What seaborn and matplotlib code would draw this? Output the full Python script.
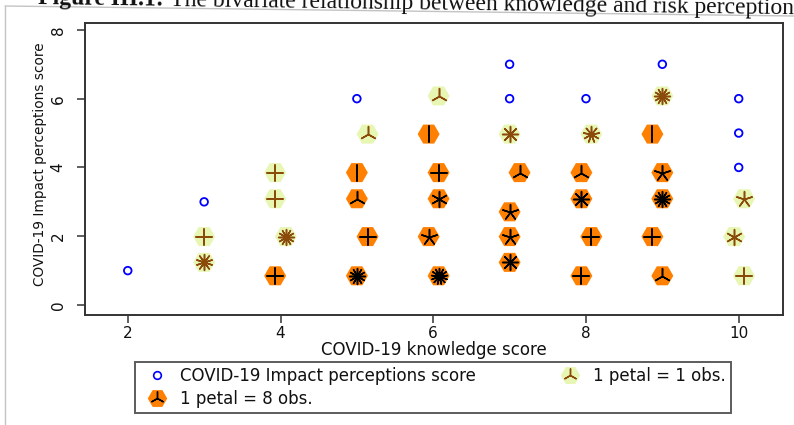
import numpy as np
import pandas as pd
import matplotlib
matplotlib.use("Agg")
import matplotlib.pyplot as plt
import seaborn as sns
from matplotlib.lines import Line2D
from matplotlib.legend_handler import HandlerTuple

# ---- data ----
# single observations (hollow blue markers)
point_x = [2, 3, 5, 7, 7, 8, 9, 10, 10, 10]
point_y = [1, 3, 6, 7, 6, 6, 7, 6, 5, 4]

# light sunflowers: 1 petal = 1 obs.
light_x = [3.0, 3.0, 3.93, 3.93, 4.07, 5.14, 6.07, 7.0, 8.07, 9.0, 10.07, 9.94, 10.07]
light_y = [1.99, 1.24, 3.85, 3.09, 1.99, 4.97, 6.08, 4.97, 4.97, 6.08, 3.09, 1.99, 0.85]
light_petals = [4, 10, 4, 4, 12, 3, 3, 8, 9, 12, 5, 6, 4]

# dark sunflowers: 1 petal = 8 obs.
dark_x = [3.93, 5.0, 5.0, 5.14, 5.0, 5.94, 6.07, 6.07, 5.94, 6.07, 7.13, 7.0, 7.0, 7.0,
          7.94, 7.94, 8.07, 7.94, 8.87, 9.0, 9.0, 8.87, 9.0]
dark_y = [0.85, 3.85, 3.09, 1.99, 0.85, 4.97, 3.85, 3.09, 1.99, 0.85, 3.85, 2.71, 1.99, 1.24,
          3.85, 3.09, 1.99, 0.85, 4.97, 3.85, 3.09, 1.99, 0.85]
dark_petals = [4, 2, 3, 4, 12, 2, 4, 6, 5, 13, 3, 5, 5, 8, 3, 8, 4, 4, 2, 5, 12, 4, 3]

x_ticks = [2, 4, 6, 8, 10]
y_ticks = [0, 2, 4, 6, 8]

x_label = "COVID-19 knowledge score"
y_label = "COVID-19 Impact perceptions score"
legend_labels = ["COVID-19 Impact perceptions score", "1 petal = 8 obs.", "1 petal = 1 obs."]
title_bold = "Figure III.1:"
title_rest = "The bivariate relationship between knowledge and risk perceptions"

LIGHT = "#e8f6b4"
ORANGE = "#ff8000"
BROWN = "#8a4a0a"
BLUE = "#0000ff"
FRAME = "#333333"

sns.set_theme(style="white")
plt.rcParams["font.family"] = ["DejaVu Sans"]

W, H = 794, 425
fig = plt.figure(figsize=(W / 100, H / 100), dpi=100)
ax = fig.add_axes([85 / W, 1 - 315 / H, (783 - 85) / W, (315 - 23) / H])

light_df = pd.DataFrame({"x": light_x, "y": light_y, "petals": light_petals})
dark_df = pd.DataFrame({"x": dark_x, "y": dark_y, "petals": dark_petals})

HEX_S = 250
PET_S = 130

# hexagon backgrounds
sns.scatterplot(data=light_df, x="x", y="y", marker="H", s=HEX_S, color=LIGHT,
                edgecolor="none", linewidth=0, ax=ax, zorder=2, legend=False)
sns.scatterplot(data=dark_df, x="x", y="y", marker="H", s=HEX_S, color=ORANGE,
                edgecolor="none", linewidth=0, ax=ax, zorder=2, legend=False)

# petals
for df, col in ((light_df, BROWN), (dark_df, "black")):
    for n, grp in df.groupby("petals"):
        sns.scatterplot(data=grp, x="x", y="y", marker=(int(n), 2, 0), s=PET_S,
                        color=col, edgecolor=col, linewidth=1.1, ax=ax, zorder=3,
                        legend=False)

# single observations
sns.scatterplot(x=point_x, y=point_y, marker="o", s=30, color=BLUE, facecolor="none",
                edgecolor=BLUE, linewidth=1.3, ax=ax, zorder=3, legend=False)

ax.set_xlim(1.44, 10.58)
ax.set_ylim(-0.29, 8.2)
ax.set_xticks(x_ticks)
ax.set_yticks(y_ticks)
ax.set_xticklabels([str(v) for v in x_ticks], fontsize=11)
ax.set_yticklabels([str(v) for v in y_ticks], fontsize=11, rotation=90, va="center")
ax.tick_params(axis="both", direction="out", length=6, width=1.1, color=FRAME,
               labelcolor="#111111", bottom=True, left=True)
ax.tick_params(axis="x", pad=2)
ax.tick_params(axis="y", pad=8)
for sp in ax.spines.values():
    sp.set_visible(True)
    sp.set_color(FRAME)
    sp.set_linewidth(1.4)

ax.set_xlabel(x_label, fontsize=12, color="#111111")
ax.set_ylabel(y_label, fontsize=9.8, color="#111111")
ax.xaxis.set_label_coords((434 - 85) / 698, -(341 - 315) / 292)
ax.yaxis.label.set_va("center")
ax.yaxis.set_label_coords(-(85 - 40) / 698, (315 - 164) / 292)

# legend
h_pt = Line2D([], [], marker="o", ls="none", mfc="none", mec=BLUE, ms=5.5, mew=1.2)
h_dark = (Line2D([], [], marker="H", ls="none", mfc=ORANGE, mec="none", ms=14),
          Line2D([], [], marker=(3, 2, 0), ls="none", color="black", ms=10, mew=1.0))
h_light = (Line2D([], [], marker="H", ls="none", mfc=LIGHT, mec="none", ms=14),
           Line2D([], [], marker=(3, 2, 0), ls="none", color=BROWN, ms=10, mew=1.0))
leg = ax.legend([h_pt, h_dark, h_light], legend_labels, ncol=2,
                handler_map={tuple: HandlerTuple(ndivide=1, pad=0)},
                loc="upper left",
                bbox_to_anchor=(135 / W, 1 - 409 / H, (731 - 135) / W, 47 / H),
                bbox_transform=fig.transFigure, mode="expand", borderaxespad=0,
                frameon=True, fancybox=False, fontsize=12, labelspacing=0.3,
                handletextpad=0.4, borderpad=0.3, handlelength=2.0)
leg.get_frame().set_edgecolor(FRAME)
leg.get_frame().set_linewidth(1.4)
for t in leg.get_texts():
    t.set_color("#111111")

# page decoration: clipped caption and thin gray border
fig.add_artist(Line2D([5 / W, 5 / W], [1 - 6 / H, 0], transform=fig.transFigure,
                      color="#c4c4c4", lw=1.0))
fig.add_artist(Line2D([5 / W, 1.0], [1 - 6 / H, 1 - 16 / H], transform=fig.transFigure,
                      color="#c4c4c4", lw=1.0))

fig.canvas.draw()
r = fig.canvas.get_renderer()
ang = -0.75
x0, y0 = 38, 4
t1 = fig.text(x0 / W, 1 - y0 / H, title_bold, fontfamily="Liberation Serif",
              fontweight="bold", fontsize=17, va="baseline", ha="left",
              rotation=ang, rotation_mode="anchor", color="#111111")
bb = t1.get_window_extent(r)
dx = bb.width + 6
dy = np.tan(np.radians(-ang)) * dx
fig.text((x0 + dx) / W, 1 - (y0 + dy) / H, title_rest, fontfamily="Liberation Serif",
         fontsize=17, va="baseline", ha="left", rotation=ang, rotation_mode="anchor",
         color="#111111")

fig.savefig("out.png", dpi=100)
